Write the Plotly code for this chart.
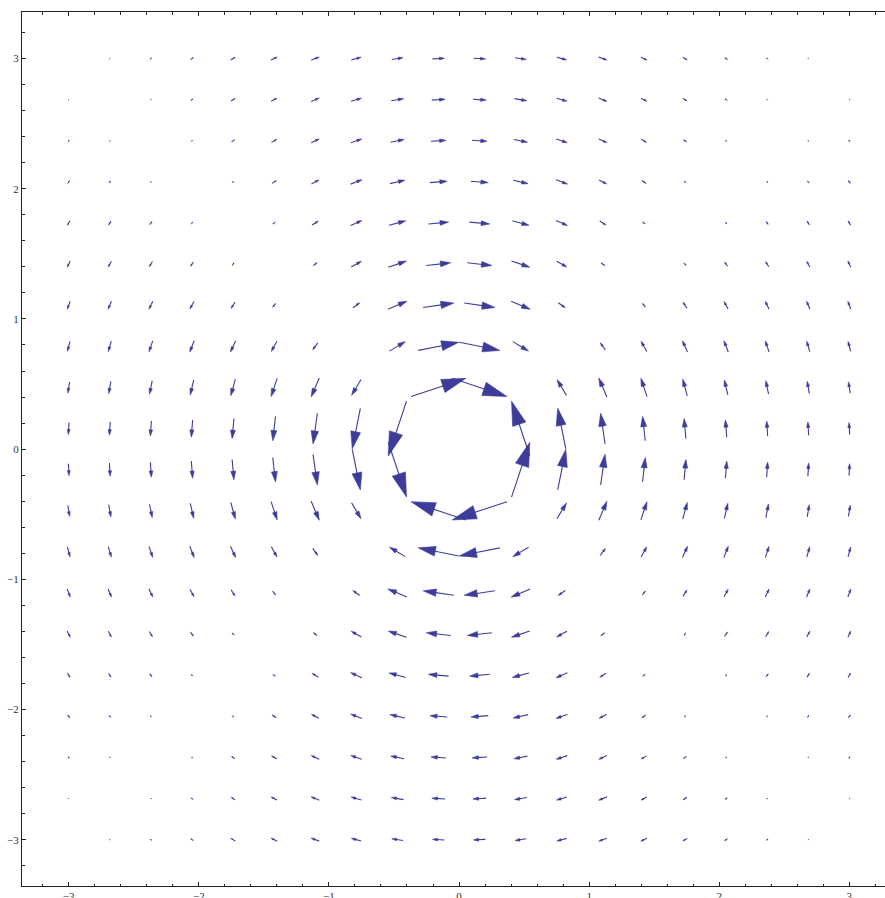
import math
import plotly.graph_objects as go

# Sample grid (20 x 20 points from -3 to 3)
grid_x = [-3.0, -2.6842, -2.3684, -2.0526, -1.7368, -1.4211, -1.1053, -0.7895, -0.4737, -0.1579,
          0.1579, 0.4737, 0.7895, 1.1053, 1.4211, 1.7368, 2.0526, 2.3684, 2.6842, 3.0]
grid_y = list(grid_x)

# Tick labels
major_ticks = [-3, -2, -1, 0, 1, 2, 3]

# Field: arrows are tangential (sign flips across the diagonals),
# their length ~ strength * |cos 2θ| / r (data units)
strength = 0.277
head_len_frac = 0.42
head_halfw_frac = 0.12
arrow_color = "rgb(61,61,153)"

line_x, line_y, head_x, head_y = [], [], [], []
for x in grid_x:
    for y in grid_y:
        r2 = x * x + y * y
        u = strength * (x * x - y * y) * (-y) / (r2 * r2)
        v = strength * (x * x - y * y) * x / (r2 * r2)
        L = math.hypot(u, v)
        if L < 1e-9:
            continue
        ux, uy = u / L, v / L
        tx, ty = x - u / 2, y - v / 2
        px, py = x + u / 2, y + v / 2
        hl, hw = head_len_frac * L, head_halfw_frac * L
        bx, by = px - hl * ux, py - hl * uy
        line_x += [tx, bx + 0.3 * hl * ux, None]
        line_y += [ty, by + 0.3 * hl * uy, None]
        head_x += [px, bx - hw * uy, bx + hw * uy, px, None]
        head_y += [py, by + hw * ux, by - hw * ux, py, None]

fig = go.Figure()
fig.add_trace(go.Scatter(x=line_x, y=line_y, mode="lines",
                         line=dict(color=arrow_color, width=1.1),
                         hoverinfo="skip", showlegend=False))
fig.add_trace(go.Scatter(x=head_x, y=head_y, mode="lines", fill="toself",
                         fillcolor=arrow_color,
                         line=dict(color=arrow_color, width=0.6),
                         hoverinfo="skip", showlegend=False))

tick_font = dict(family="Liberation Serif", size=11, color="#333")
fig.update_layout(
    width=885, height=898,
    margin=dict(l=22, r=0, t=12, b=12),
    paper_bgcolor="white", plot_bgcolor="white",
    xaxis=dict(range=[-3.359, 3.274], showgrid=False, zeroline=False,
               showline=True, linecolor="#222", linewidth=1, mirror="ticks",
               ticks="inside", ticklen=4, tickwidth=1, tickcolor="#222",
               tickmode="array", tickvals=major_ticks,
               minor=dict(dtick=0.2, tick0=0, ticks="inside", ticklen=2.5,
                          tickcolor="#222", tickwidth=1),
               tickfont=tick_font, automargin=False),
    yaxis=dict(range=[-3.356, 3.358], showgrid=False, zeroline=False,
               showline=True, linecolor="#222", linewidth=1, mirror=False,
               ticks="inside", ticklen=4, tickwidth=1, tickcolor="#222",
               tickmode="array", tickvals=major_ticks,
               minor=dict(dtick=0.2, tick0=0, ticks="inside", ticklen=2.5,
                          tickcolor="#222", tickwidth=1),
               tickfont=tick_font, automargin=False),
)

fig.write_html("out.html",
               config={"displayModeBar": False},
               post_script="document.body.style.margin='0px';document.body.style.overflow='hidden';")
